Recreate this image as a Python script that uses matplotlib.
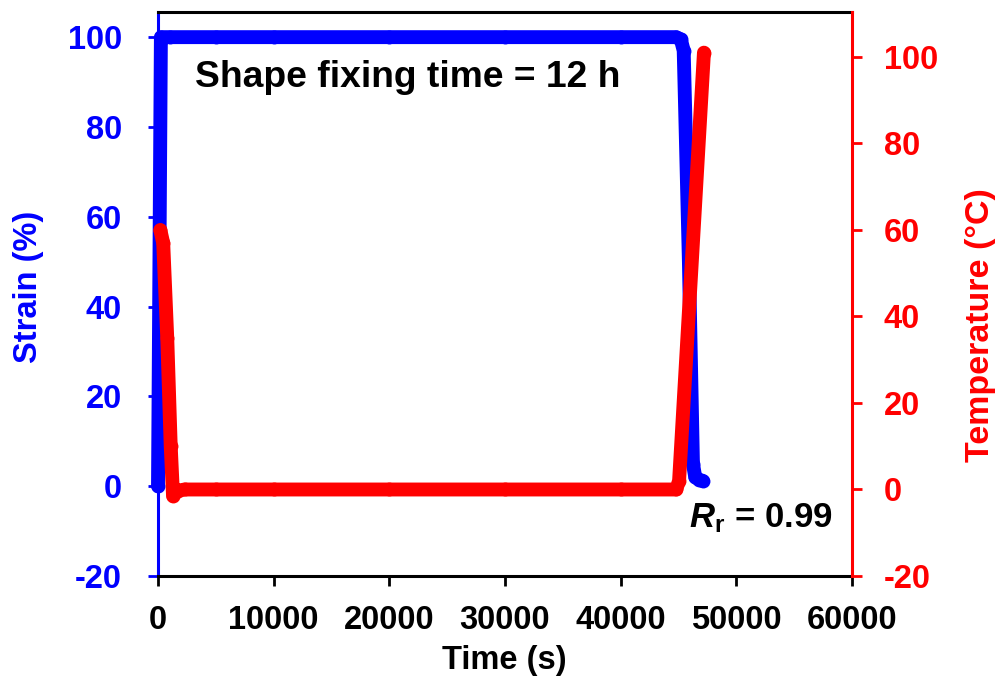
import matplotlib
matplotlib.use("Agg")
import matplotlib.pyplot as plt

# ---- data ----
time_strain = [0, 250, 1000, 5000, 10000, 20000, 30000, 40000, 44800, 45200, 45450, 45900, 46250, 46450, 46800, 47100]
strain = [0, 100, 100, 100, 100, 100, 100, 100, 100, 99.5, 97, 50, 5, 2, 1.4, 1.2]

time_temp = [200, 450, 800, 1100, 1300, 1700, 2300, 5000, 10000, 20000, 30000, 40000, 44800, 45050, 47200]
temperature = [60, 57, 35, 10, -1.5, -0.3, 0, 0, 0, 0, 0, 0, 0, 2, 101]

x_ticks = [0, 10000, 20000, 30000, 40000, 50000, 60000]
strain_ticks = [-20, 0, 20, 40, 60, 80, 100]
temp_ticks = [-20, 0, 20, 40, 60, 80, 100]

BLUE = "#0000ff"
RED = "#ff0000"

plt.rcParams["font.family"] = ["Liberation Sans", "DejaVu Sans"]
plt.rcParams["font.weight"] = "bold"
plt.rcParams["mathtext.fontset"] = "custom"
plt.rcParams["mathtext.rm"] = "Liberation Sans:bold"
plt.rcParams["mathtext.bf"] = "Liberation Sans:bold"
plt.rcParams["mathtext.it"] = "Liberation Sans:bold:italic"
plt.rcParams["mathtext.bfit"] = "Liberation Sans:bold:italic"

W, H = 1004, 679
fig = plt.figure(figsize=(W / 100, H / 100), dpi=100)
ax = fig.add_axes([158 / W, 1 - 576 / H, 694 / W, 564 / H])
ax2 = ax.twinx()

fs_tick = 23.5
fs_label = 23.5

ax.plot(time_strain, strain, color=BLUE, lw=10, marker="o", ms=10, mew=0,
        solid_joinstyle="round", solid_capstyle="round", clip_on=False, zorder=3)
ax2.plot(time_temp, temperature, color=RED, lw=10, marker="o", ms=10, mew=0,
         solid_joinstyle="round", solid_capstyle="round", clip_on=False, zorder=3)

ax.set_xlim(0, 60000)
ax.set_ylim(-20, 105.6)
ax2.set_ylim(-20, 110.4)

ax.set_xticks(x_ticks)
ax.set_xticklabels([str(v) for v in x_ticks], fontsize=fs_tick, fontweight="bold")
ax.set_yticks(strain_ticks)
ax.set_yticklabels([str(v) for v in strain_ticks], fontsize=fs_tick, fontweight="bold", color=BLUE)
ax2.set_yticks(temp_ticks)
ax2.set_yticklabels([str(v) for v in temp_ticks], fontsize=fs_tick, fontweight="bold", color=RED)

ax.tick_params(axis="x", direction="out", length=7, width=2, pad=14, colors="black")
ax.tick_params(axis="y", direction="out", length=7, width=2, pad=19, colors=BLUE)
ax2.tick_params(axis="y", direction="out", length=7, width=2, pad=16, colors=RED)

for s in ["top", "bottom"]:
    ax.spines[s].set_linewidth(2.2)
    ax.spines[s].set_color("black")
ax.spines["left"].set_color(BLUE)
ax.spines["left"].set_linewidth(2.2)
ax.spines["right"].set_visible(False)
for s in ["left", "top", "bottom"]:
    ax2.spines[s].set_visible(False)
ax2.spines["right"].set_color(RED)
ax2.spines["right"].set_linewidth(2.2)

# axis titles placed at their reference pixel centres
fig.text(504 / W, 1 - 661 / H, "Time (s)", fontsize=fs_label, fontweight="bold",
         ha="center", va="center")
fig.text(29 / W, 1 - 287 / H, "Strain (%)", fontsize=fs_label, fontweight="bold",
         color=BLUE, rotation=90, ha="center", va="center")
fig.text(981 / W, 1 - 325 / H, "Temperature (\u00b0C)", fontsize=24.5, fontweight="bold",
         color=RED, rotation=90, ha="center", va="center")

fig.text(195 / W, 1 - 87 / H, "Shape fixing time = 12 h", fontsize=26.8,
         fontweight="bold", ha="left", va="baseline")
fig.text(833 / W, 1 - 527 / H, r"$\mathbfit{R}_\mathbf{r}$ = 0.99", fontsize=25,
         fontweight="bold", ha="right", va="baseline")

fig.savefig("out.png", dpi=100)
